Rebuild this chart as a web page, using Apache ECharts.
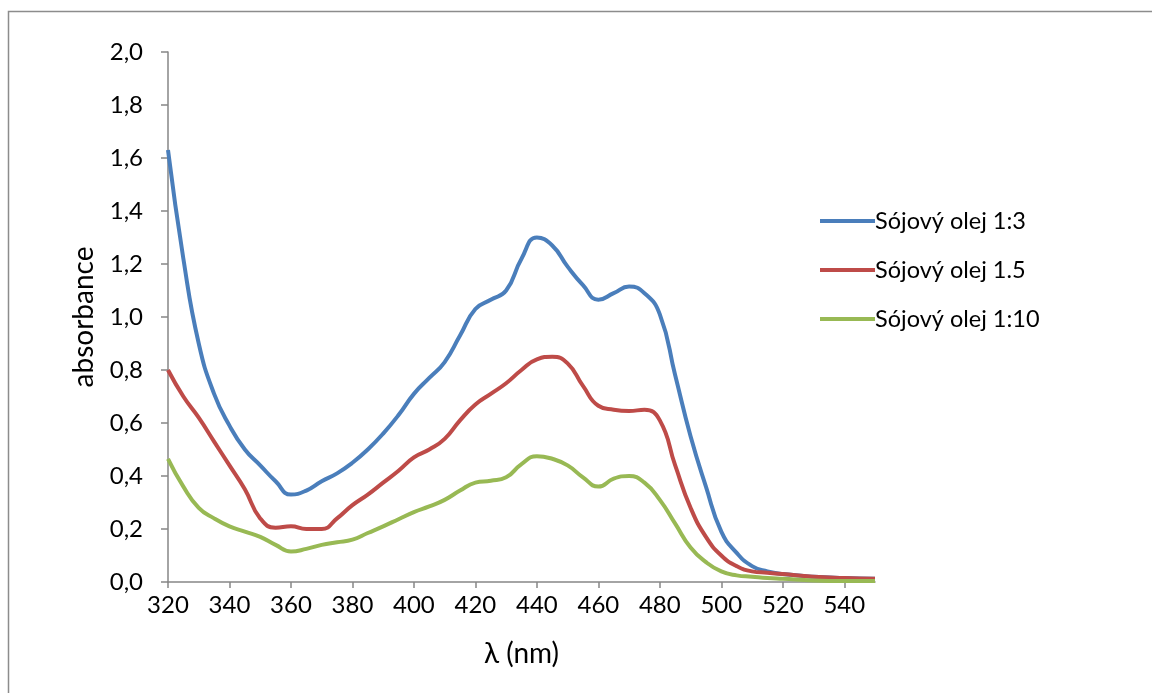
<!DOCTYPE html>
<html>
<head>
<meta charset="utf-8">
<script src="https://cdn.jsdelivr.net/npm/echarts@6/dist/echarts.min.js"></script>
<style>
  html, body { margin: 0; padding: 0; background: #fff; }
  #chart { width: 1152px; height: 693px; }
</style>
</head>
<body>
<div id="chart"></div>
<script>
// wavelengths (nm)
var wavelengths = [320, 325, 330, 335, 340, 345, 350, 355, 360, 365, 370, 375, 380, 385, 390, 395,
  400, 405, 410, 415, 420, 425, 430, 435, 440, 445, 450, 455, 460, 465, 470, 475,
  480, 485, 490, 495, 500, 505, 510, 515, 520, 530, 540, 550];

// Sójový olej 1:3
var olej13 = [1.63, 1.22, 0.90, 0.71, 0.59, 0.50, 0.44, 0.38, 0.33, 0.345, 0.38, 0.41, 0.45, 0.50, 0.56, 0.63,
  0.71, 0.77, 0.83, 0.93, 1.03, 1.065, 1.10, 1.22, 1.30, 1.27, 1.19, 1.12, 1.065, 1.09, 1.115, 1.09,
  1.01, 0.78, 0.55, 0.36, 0.19, 0.11, 0.06, 0.04, 0.03, 0.02, 0.015, 0.012];

// Sójový olej 1.5
var olej15 = [0.80, 0.70, 0.62, 0.53, 0.44, 0.35, 0.24, 0.205, 0.21, 0.20, 0.20, 0.24, 0.29, 0.33, 0.375, 0.42,
  0.47, 0.50, 0.54, 0.61, 0.67, 0.71, 0.75, 0.80, 0.84, 0.85, 0.825, 0.74, 0.665, 0.65, 0.645, 0.65,
  0.61, 0.44, 0.28, 0.17, 0.10, 0.06, 0.04, 0.035, 0.03, 0.02, 0.015, 0.012];

// Sójový olej 1:10
var olej110 = [0.465, 0.36, 0.28, 0.24, 0.21, 0.19, 0.17, 0.14, 0.115, 0.125, 0.14, 0.15, 0.16, 0.185, 0.21, 0.237,
  0.264, 0.285, 0.31, 0.345, 0.375, 0.382, 0.395, 0.445, 0.475, 0.465, 0.44, 0.395, 0.36, 0.39, 0.40, 0.375,
  0.31, 0.22, 0.13, 0.075, 0.04, 0.025, 0.02, 0.015, 0.012, 0.006, 0.004, 0.004];

var seriesNames = ['Sójový olej 1:3', 'Sójový olej 1.5', 'Sójový olej 1:10'];
var seriesColors = ['#4A7EBB', '#BE4B48', '#98B954'];
var xTicks = [320, 340, 360, 380, 400, 420, 440, 460, 480, 500, 520, 540];

var font = 'Lato, "Open Sans", sans-serif';

function pairs(ys) {
  return wavelengths.map(function (x, i) { return [x, ys[i]]; });
}

var chart = echarts.init(document.getElementById('chart'));

var series = [olej13, olej15, olej110].map(function (ys, i) {
  return {
    name: seriesNames[i],
    type: 'line',
    smooth: 0.5,
    showSymbol: false,
    data: pairs(ys),
    lineStyle: { color: seriesColors[i], width: 4 },
    itemStyle: { color: seriesColors[i] }
  };
});

chart.setOption({
  animation: false,
  backgroundColor: '#fff',
  textStyle: { fontFamily: font },
  graphic: [{
    type: 'rect',
    shape: { x: 8.5, y: 11.5, width: 1170, height: 700 },
    style: { fill: 'none', stroke: '#8c8c8c', lineWidth: 1.5 },
    silent: true
  }],
  grid: { left: 168, right: 277, top: 52, bottom: 111, containLabel: false },
  legend: {
    orient: 'vertical',
    left: 815,
    top: 204,
    itemGap: 25,
    itemWidth: 55,
    itemHeight: 4,
    icon: 'rect',
    textStyle: { fontSize: 23.5, color: '#000', fontFamily: font, padding: [0, 0, 0, -5] },
    data: seriesNames
  },
  xAxis: {
    type: 'value',
    min: 320,
    max: 550,
    interval: 20,
    name: 'λ (nm)',
    nameLocation: 'middle',
    nameGap: 58,
    nameTextStyle: { fontSize: 28, color: '#000', fontFamily: font },
    axisLine: { lineStyle: { color: '#868686', width: 1.5 } },
    axisTick: { show: true, length: 6, lineStyle: { color: '#868686', width: 1.5 }, customValues: xTicks },
    axisLabel: { fontSize: 24, color: '#000', margin: 11, fontFamily: font, customValues: xTicks },
    splitLine: { show: false }
  },
  yAxis: {
    type: 'value',
    min: 0,
    max: 2,
    interval: 0.2,
    name: 'absorbance',
    nameLocation: 'middle',
    nameGap: 70,
    nameTextStyle: { fontSize: 28, color: '#000', fontFamily: font },
    axisLine: { show: true, lineStyle: { color: '#868686', width: 1.5 } },
    axisTick: { show: true, length: 7, lineStyle: { color: '#868686', width: 1.5 } },
    axisLabel: {
      fontSize: 24, color: '#000', margin: 25, fontFamily: font,
      formatter: function (v) { return v.toFixed(1).replace('.', ','); }
    },
    splitLine: { show: false }
  },
  series: series
});
</script>
</body>
</html>
